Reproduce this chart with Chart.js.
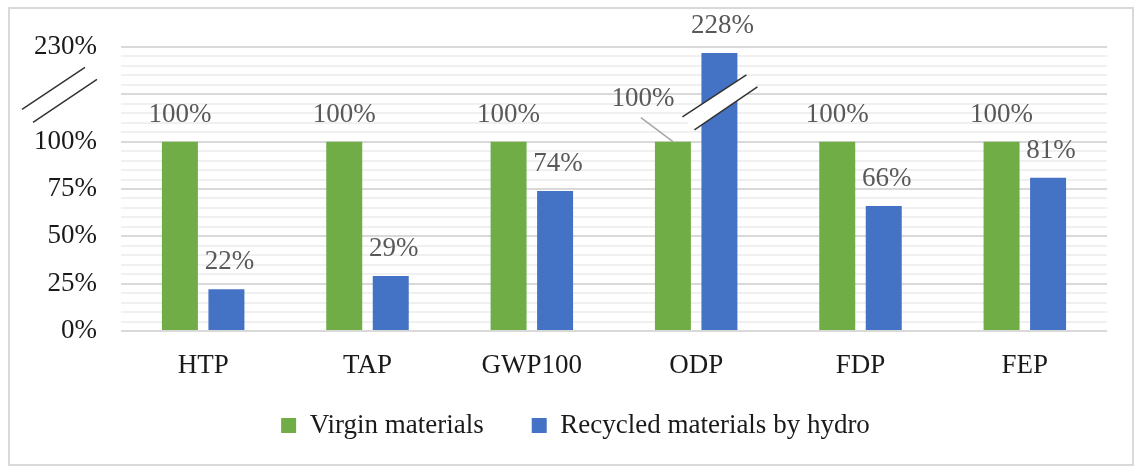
<!DOCTYPE html>
<html>
<head>
<meta charset="utf-8">
<script src="https://cdn.jsdelivr.net/npm/chart.js@4/dist/chart.umd.min.js"></script>
<style>
  html, body { margin: 0; padding: 0; background: #fff; }
  #wrap { position: relative; width: 1134px; height: 467px; }
</style>
</head>
<body>
<div id="wrap"><canvas id="miGrafica"></canvas></div>
<script>
'use strict'

// DATOS DEL GRÁFICO
const categorias = ['HTP', 'TAP', 'GWP100', 'ODP', 'FDP', 'FEP'];
const virgenes = [100, 100, 100, 100, 100, 100];
const recicladas = [22, 29, 74, 228, 66, 81];
const etiquetasEje = { 0: '0%', 25: '25%', 50: '50%', 75: '75%', 100: '100%', 150: '230%' };

// EJE CORTADO: POR ENCIMA DE 100% LOS VALORES SE COMPRIMEN
const CORTE = 100;
const COMPRESION = 0.366;
const aEje = v => v <= CORTE ? v : CORTE + (v - CORTE) * COMPRESION;

const fuente = '"Liberation Serif", "Times New Roman", serif';
const TAM = 27;

// DIBUJA MARCO, ETIQUETAS DE DATOS Y MARCAS DE CORTE
const extras = {
  id: 'extras',
  afterLayout(chart) {
    // recoloco un poco la leyenda
    chart.legend.top -= 18;
    chart.legend.bottom -= 18;
    chart.legend.left += 22;
    chart.legend.right += 22;
  },
  beforeDraw(chart) {
    const ctx = chart.ctx;
    ctx.save();
    ctx.strokeStyle = '#d9d9d9';
    ctx.lineWidth = 2;
    ctx.strokeRect(9, 8, 1124, 457);
    ctx.restore();
  },
  afterDatasetsDraw(chart) {
    const ctx = chart.ctx;
    const y = chart.scales.y;
    ctx.save();

    // corte en la barra ODP
    const iODP = categorias.indexOf('ODP');
    const barra = chart.getDatasetMeta(1).data[iODP];
    const cx = barra.x, cy = y.getPixelForValue(121);
    ctx.fillStyle = '#fff';
    ctx.beginPath();
    ctx.moveTo(cx - 37, cy + 15);
    ctx.lineTo(cx + 27, cy - 27);
    ctx.lineTo(cx + 38, cy - 15);
    ctx.lineTo(cx - 25, cy + 28);
    ctx.closePath();
    ctx.fill();
    ctx.strokeStyle = '#333';
    ctx.lineWidth = 1.5;
    ctx.beginPath();
    ctx.moveTo(cx - 37, cy + 15); ctx.lineTo(cx + 27, cy - 27);
    ctx.moveTo(cx - 25, cy + 28); ctx.lineTo(cx + 38, cy - 15);
    ctx.stroke();

    // corte en el eje Y
    const ax = chart.chartArea.left - 62, ay = y.getPixelForValue(125);
    ctx.beginPath();
    ctx.moveTo(ax - 37, ay + 15); ctx.lineTo(ax + 26, ay - 27);
    ctx.moveTo(ax - 26, ay + 28); ctx.lineTo(ax + 38, ay - 15);
    ctx.stroke();

    // etiquetas de datos
    ctx.font = TAM + 'px ' + fuente;
    ctx.fillStyle = '#595959';
    ctx.textAlign = 'center';
    ctx.textBaseline = 'middle';
    const series = [virgenes, recicladas];
    series.forEach((valores, d) => {
      chart.getDatasetMeta(d).data.forEach((bar, i) => {
        const texto = valores[i] + '%';
        if (d === 0 && i === iODP) {
          // etiqueta desplazada con línea guía
          ctx.fillText(texto, bar.x - 30, bar.y - 43);
          ctx.strokeStyle = '#a6a6a6';
          ctx.lineWidth = 1.5;
          ctx.beginPath();
          ctx.moveTo(bar.x - 32, bar.y - 24);
          ctx.lineTo(bar.x, bar.y);
          ctx.stroke();
        } else {
          ctx.fillText(texto, bar.x + (d === 1 ? 3 : 0), bar.y - 27);
        }
      });
    });
    ctx.restore();
  }
};

function crearGrafica() {
  const ctx = document.getElementById('miGrafica').getContext('2d');

  new Chart(ctx, {
    type: 'bar',
    data: {
      labels: categorias,
      datasets: [{
        label: 'Virgin materials',
        data: virgenes.map(aEje),
        backgroundColor: '#70ad47',
        barPercentage: 0.774,
        categoryPercentage: 0.566
      }, {
        label: 'Recycled materials by hydro',
        data: recicladas.map(aEje),
        backgroundColor: '#4472c4',
        barPercentage: 0.774,
        categoryPercentage: 0.566
      }]
    },
    options: {
      responsive: true,
      maintainAspectRatio: false,
      animation: false,
      layout: { padding: { top: 47, right: 27, left: 0, bottom: 0 } },
      scales: {
        x: {
          grid: { display: false, drawTicks: false },
          border: { display: false },
          ticks: { color: '#1a1a1a', font: { family: fuente, size: TAM }, padding: 19 },
          afterFit: s => { s.height = 51; }
        },
        y: {
          min: 0,
          max: 150,
          border: { display: false },
          grid: {
            drawTicks: false,
            lineWidth: 2,
            color: c => (c.tick.value % 25 === 0 ? '#d9d9d9' : '#f0f0f0')
          },
          ticks: {
            stepSize: 5,
            autoSkip: false,
            padding: 24,
            color: '#1a1a1a',
            font: { family: fuente, size: TAM },
            callback: v => etiquetasEje[v] || ''
          },
          afterFit: s => { s.width = 121; }
        }
      },
      plugins: {
        legend: {
          position: 'bottom',
          labels: {
            boxWidth: 15,
            boxHeight: 15,
            padding: 48,
            color: '#1a1a1a',
            font: { family: fuente, size: TAM }
          }
        },
        tooltip: { enabled: false }
      }
    },
    plugins: [extras]
  });
}

crearGrafica();
</script>
</body>
</html>
